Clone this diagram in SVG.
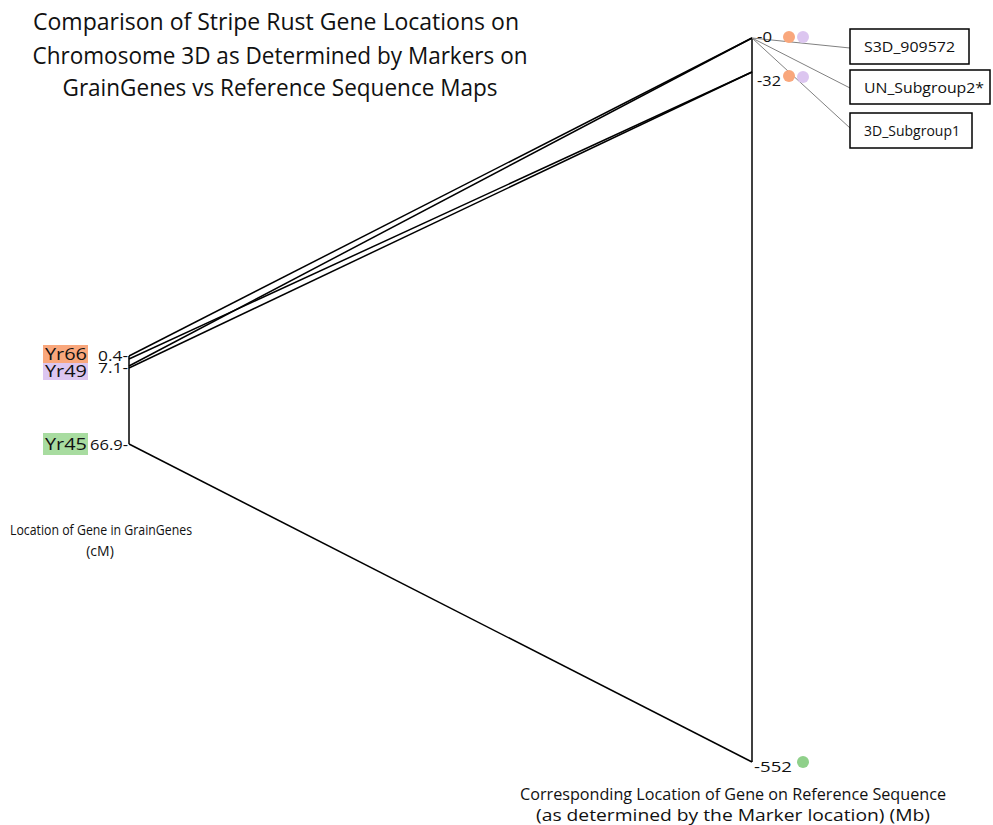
<svg xmlns="http://www.w3.org/2000/svg" width="993" height="825" viewBox="0 0 993 825">
<style>
text{font-family:"Open Sans","Liberation Sans",sans-serif;fill:#111}
.t{font-size:23px;text-anchor:middle}
.ax{font-size:14px;text-anchor:middle}
.ax2{font-size:16px;text-anchor:middle}
.tk{font-size:14px}
.gn{font-size:17px}
.bx{fill:#fff;stroke:#000;stroke-width:1.5}
.bl{font-size:15px}
.k{stroke:#000;stroke-width:1.5;fill:none}
.g{stroke:#808080;stroke-width:1;fill:none}
</style>
<rect width="993" height="825" fill="#fff"/>
<g id="title">
<text class="t" x="276" y="30" textLength="486" lengthAdjust="spacingAndGlyphs">Comparison of Stripe Rust Gene Locations on</text>
<text class="t" x="280" y="64" textLength="495" lengthAdjust="spacingAndGlyphs">Chromosome 3D as Determined by Markers on</text>
<text class="t" x="280" y="96" textLength="435" lengthAdjust="spacingAndGlyphs">GrainGenes vs Reference Sequence Maps</text>
</g>
<g id="connectors">
<line class="k" x1="129" y1="356" x2="129" y2="444"/>
<line class="k" x1="752" y1="38" x2="752" y2="762"/>
<line class="k" x1="129" y1="356" x2="752" y2="38"/>
<line class="k" x1="129" y1="366" x2="752" y2="38"/>
<line class="k" x1="129" y1="359" x2="752" y2="72"/>
<line class="k" x1="129" y1="368" x2="752" y2="72"/>
<line class="k" x1="129" y1="444" x2="752" y2="762"/>
<line class="g" x1="752" y1="38" x2="850" y2="48"/>
<line class="g" x1="752" y1="38" x2="850" y2="88"/>
<line class="g" x1="752" y1="38" x2="850" y2="128"/>
</g>
<g id="left-axis">
<text class="tk" x="98" y="361" textLength="30" lengthAdjust="spacingAndGlyphs">0.4-</text>
<text class="tk" x="98" y="373" textLength="30" lengthAdjust="spacingAndGlyphs">7.1-</text>
<text class="tk" x="90" y="450" textLength="38" lengthAdjust="spacingAndGlyphs">66.9-</text>
</g>
<g id="gene-Yr66"><rect x="43" y="345" width="45" height="18" fill="#f9a77c"/><text class="gn" x="45" y="360" textLength="42" lengthAdjust="spacingAndGlyphs">Yr66</text></g>
<g id="gene-Yr49"><rect x="43" y="363" width="45" height="17" fill="#dcc6f0"/><text class="gn" x="45" y="377" textLength="42" lengthAdjust="spacingAndGlyphs">Yr49</text></g>
<g id="gene-Yr45"><rect x="43" y="433" width="45" height="22" fill="#a8dca0"/><text class="gn" x="45" y="450" textLength="42" lengthAdjust="spacingAndGlyphs">Yr45</text></g>
<g id="right-axis">
<text class="tk" x="757" y="42" textLength="15" lengthAdjust="spacingAndGlyphs">-0</text>
<text class="tk" x="757" y="86" textLength="24" lengthAdjust="spacingAndGlyphs">-32</text>
<text class="tk" x="754" y="772" textLength="38" lengthAdjust="spacingAndGlyphs">-552</text>
<circle cx="789" cy="37" r="6" fill="#f9a77c"/>
<circle cx="803" cy="37" r="6" fill="#dcc6f0"/>
<circle cx="789" cy="76" r="6" fill="#f9a77c"/>
<circle cx="803" cy="77" r="6" fill="#dcc6f0"/>
<circle cx="803" cy="762" r="6" fill="#8fd08a"/>
</g>
<g id="marker-S3D_909572"><rect class="bx" x="850" y="29" width="119" height="35"/><text class="bl" x="864" y="52" textLength="91" lengthAdjust="spacingAndGlyphs">S3D_909572</text></g>
<g id="marker-UN_Subgroup2"><rect class="bx" x="850" y="70" width="140" height="34"/><text class="bl" x="864" y="93" textLength="120" lengthAdjust="spacingAndGlyphs">UN_Subgroup2*</text></g>
<g id="marker-3D_Subgroup1"><rect class="bx" x="850" y="113" width="122" height="35"/><text class="bl" x="864" y="136" textLength="96" lengthAdjust="spacingAndGlyphs">3D_Subgroup1</text></g>
<g id="axis-labels">
<text class="ax" x="101" y="535" textLength="182" lengthAdjust="spacingAndGlyphs">Location of Gene in GrainGenes</text>
<text class="ax" x="100" y="556">(cM)</text>
<text class="ax2" x="733" y="800" textLength="426" lengthAdjust="spacingAndGlyphs">Corresponding Location of Gene on Reference Sequence</text>
<text class="ax2" x="733" y="821" textLength="394" lengthAdjust="spacingAndGlyphs">(as determined by the Marker location) (Mb)</text>
</g>
</svg>
